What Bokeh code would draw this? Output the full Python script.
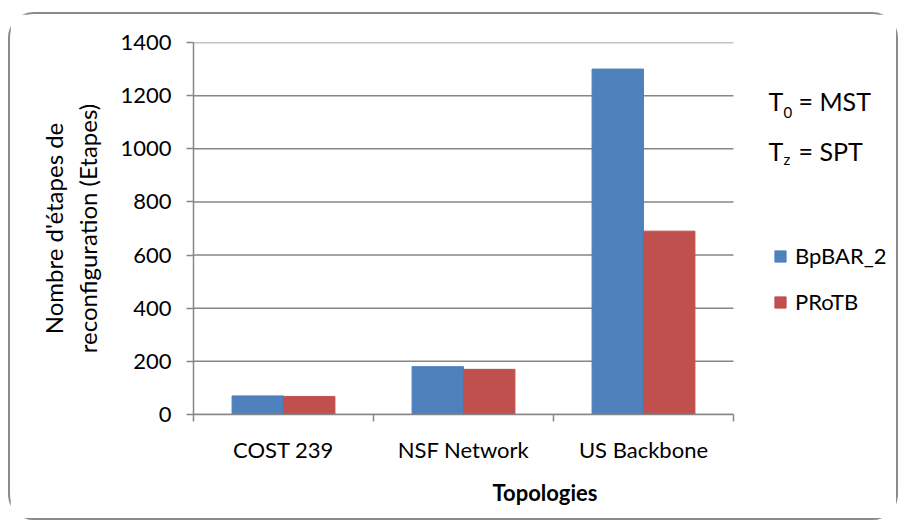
from bokeh.plotting import figure
from bokeh.models import (ColumnDataSource, FixedTicker, Legend, LegendItem, Label, Range1d)
from bokeh.embed import file_html
from bokeh.resources import INLINE

categories = ["COST 239", "NSF Network", "US Backbone"]
bpbar2 = [70, 180, 1300]
protb = [68, 170, 690]
y_ticks = [0, 200, 400, 600, 800, 1000, 1200, 1400]

FONT = "Lato"
GRAY = "#868686"
BLUE = "#4F81BD"
RED = "#C0504D"

n = len(categories)
bar_w = 1 / 3.5
idx = list(range(n))
src_b = ColumnDataSource(dict(x=[i + 0.5 - bar_w / 2 for i in idx], top=bpbar2))
src_r = ColumnDataSource(dict(x=[i + 0.5 + bar_w / 2 for i in idx], top=protb))
src_g = ColumnDataSource(dict(x0=[0] * len(y_ticks), x1=[n] * len(y_ticks), y=y_ticks))

FW = 703
p = figure(frame_width=FW, frame_height=372, output_backend="svg", toolbar_location=None,
           x_range=Range1d(0, FW / 180), y_range=Range1d(0, 1400),
           min_border_left=183, min_border_right=0, min_border_top=28, min_border_bottom=104)
p.styles = {"border": "2px solid #8a8a8a", "border-radius": "26px",
            "margin-left": "8px", "margin-top": "12px"}

# horizontal gridlines only across the category area
p.segment(x0="x0", x1="x1", y0="y", y1="y", source=src_g, line_color=GRAY, line_width=1.5)

rb = p.vbar(x="x", top="top", width=bar_w, source=src_b, fill_color=BLUE, line_color=BLUE)
rr = p.vbar(x="x", top="top", width=bar_w, source=src_r, fill_color=RED, line_color=RED)

p.outline_line_color = None
p.xgrid.grid_line_color = None
p.ygrid.grid_line_color = None

# y axis
ya = p.yaxis[0]
ya.ticker = FixedTicker(ticks=y_ticks)
ya.axis_line_color = GRAY
ya.axis_line_width = 1.5
ya.major_tick_line_color = GRAY
ya.major_tick_line_width = 1.5
ya.major_tick_in = 0
ya.major_tick_out = 7
ya.minor_tick_line_color = None
ya.major_label_text_font = FONT
ya.major_label_text_font_size = "22px"
ya.major_label_text_color = "#000000"
ya.major_label_standoff = 15
ya.axis_label = "Nombre d'étapes de\nreconfiguration (Etapes)"
ya.axis_label_text_font = FONT
ya.axis_label_text_font_size = "24px"
ya.axis_label_text_font_style = "normal"
ya.axis_label_text_color = "#000000"
ya.axis_label_standoff = 15

# x axis
xa = p.xaxis[0]
xa.bounds = (0, n)
xa.ticker = FixedTicker(ticks=[i + 0.5 for i in idx], minor_ticks=list(range(n + 1)))
xa.major_label_overrides = {i + 0.5: c for i, c in zip(idx, categories)}
xa.axis_line_color = GRAY
xa.axis_line_width = 1.5
xa.major_tick_line_color = None
xa.major_tick_in = 0
xa.major_tick_out = 0
xa.minor_tick_line_color = GRAY
xa.minor_tick_line_width = 1.5
xa.minor_tick_in = 0
xa.minor_tick_out = 7
xa.major_label_text_font = FONT
xa.major_label_text_font_size = "22px"
xa.major_label_text_color = "#000000"
xa.major_label_standoff = 14
xa.axis_label = "Topologies"
xa.axis_label_text_font = FONT
xa.axis_label_text_font_size = "22px"
xa.axis_label_text_font_style = "bold"
xa.axis_label_text_color = "#000000"
xa.axis_label_standoff = 13

# legend
legend = Legend(items=[LegendItem(label="BpBAR_2", renderers=[rb]),
                       LegendItem(label="PRoTB", renderers=[rr])],
                location=(580, 99), orientation="vertical",
                label_text_font=FONT, label_text_font_size="22px", label_text_color="#000000",
                glyph_width=14, glyph_height=14, label_height=22, spacing=19,
                label_standoff=8, padding=0, margin=0,
                border_line_color=None, background_fill_alpha=0)
p.add_layout(legend, "center")

# annotations T0 = MST, Tz = SPT
def add_text(txt, x, y, size):
    p.add_layout(Label(x=x, y=y, x_units="screen", y_units="screen", text=txt,
                       text_font=FONT, text_font_size=size, text_color="#000000",
                       text_align="left", text_baseline="alphabetic"))

add_text("T", 575, 314, "25px")
add_text("0", 590, 302, "15px")
add_text("= MST", 605, 314, "25px")
add_text("T", 575, 264, "25px")
add_text("z", 590, 256, "15px")
add_text("= SPT", 605, 264, "25px")

open("out.html", "w").write(file_html(p, INLINE))
